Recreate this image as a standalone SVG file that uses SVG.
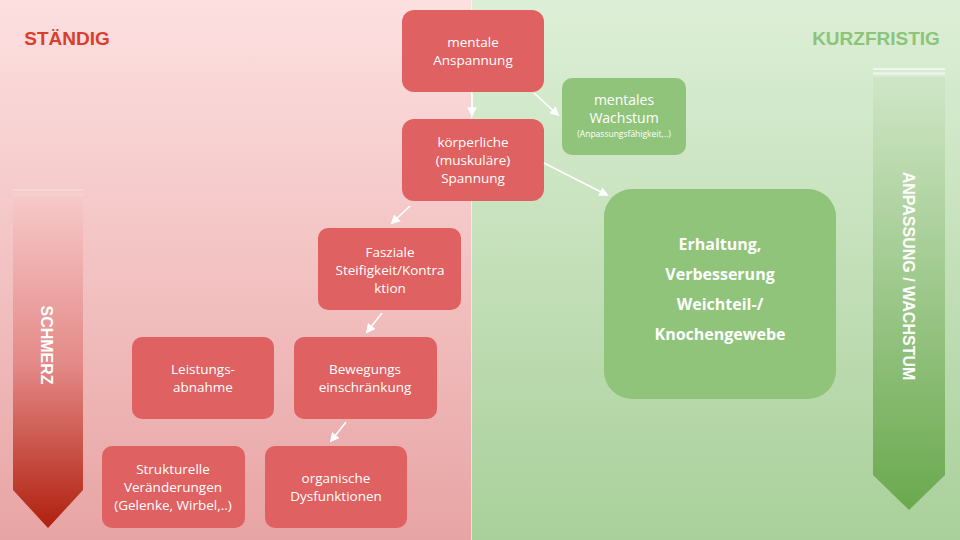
<svg xmlns="http://www.w3.org/2000/svg" width="960" height="540" viewBox="0 0 960 540">
<defs>
<linearGradient id="bgL" x1="0" y1="0" x2="0" y2="1"><stop offset="0" stop-color="#fde0e0"/><stop offset="1" stop-color="#e8a4a4"/></linearGradient>
<linearGradient id="bgR" x1="0" y1="0" x2="0" y2="1"><stop offset="0" stop-color="#ddefd7"/><stop offset="1" stop-color="#a9d09a"/></linearGradient>
<linearGradient id="arL" x1="0" y1="0" x2="0" y2="1"><stop offset="0" stop-color="#f6c8c8"/><stop offset="0.5" stop-color="#e48a88"/><stop offset="1" stop-color="#b0200e"/></linearGradient>
<linearGradient id="arR" x1="0" y1="0" x2="0" y2="1"><stop offset="0" stop-color="#cfe6c6"/><stop offset="1" stop-color="#6aa94e"/></linearGradient>
<marker id="ah" viewBox="0 0 10 10" refX="8" refY="5" markerWidth="6" markerHeight="6" orient="auto"><path d="M0,0L10,5L0,10z" fill="#fff"/></marker>
<style>
.r{fill:#e06161}.g{fill:#8fc47a}
text{font-family:"Open Sans","Noto Sans",sans-serif;fill:#fff;font-size:13.5px;text-anchor:middle}
.c line{stroke:#fff;stroke-width:1.6;marker-end:url(#ah)}
</style>
</defs>
<rect x="0" y="0" width="471" height="540" fill="url(#bgL)"/>
<rect x="471" y="0" width="489" height="540" fill="url(#bgR)"/>
<line x1="471.5" y1="0" x2="471.5" y2="540" stroke="#fff" stroke-opacity="0.6"/>
<text x="67" y="45" style="font-family:'Liberation Sans',sans-serif;font-weight:bold;font-size:19px;fill:#d9402c">STÄNDIG</text>
<text x="876" y="45" style="font-family:'Liberation Sans',sans-serif;font-weight:bold;font-size:19px;fill:#8cc47a">KURZFRISTIG</text>
<g id="painArrow">
<rect x="13" y="189" width="70" height="2" fill="#f9d4d4"/>
<rect x="13" y="193" width="70" height="3" fill="#f8cfcf"/>
<path d="M13,198H83V490L48,528L13,490Z" fill="url(#arL)"/>
<text transform="translate(41,345) rotate(90)" style="font-family:'Liberation Sans',sans-serif;font-weight:bold;font-size:16px">SCHMERZ</text>
</g>
<g id="growArrow">
<rect x="873" y="68" width="72" height="2" fill="#eef7ea"/>
<rect x="873" y="72" width="72" height="3" fill="#e8f3e3"/>
<path d="M873,77H945V475L909,510L873,475Z" fill="url(#arR)"/>
<text transform="translate(903,276) rotate(90)" style="font-family:'Liberation Sans',sans-serif;font-weight:bold;font-size:16px">ANPASSUNG / WACHSTUM</text>
</g>
<g id="n1"><rect class="r" x="402" y="10" width="142" height="82" rx="12"/><text x="473" y="47">mentale</text><text x="473" y="65">Anspannung</text></g>
<g id="n2"><rect class="r" x="402" y="119" width="142" height="82" rx="12"/><text x="473" y="147">körperliche</text><text x="473" y="165">(muskuläre)</text><text x="473" y="183">Spannung</text></g>
<g id="n3"><rect class="g" x="562" y="78" width="124" height="77" rx="10"/><text x="624" y="105" style="font-size:14px">mentales</text><text x="624" y="123" style="font-size:14px">Wachstum</text><text x="624" y="137" style="font-size:8.5px">(Anpassungsfähigkeit,..)</text></g>
<g id="n4"><rect class="g" x="604" y="189" width="232" height="210" rx="28"/>
<text x="720" y="250" style="font-weight:bold;font-size:16px">Erhaltung,</text>
<text x="720" y="280" style="font-weight:bold;font-size:16px">Verbesserung</text>
<text x="720" y="310" style="font-weight:bold;font-size:16px">Weichteil-/</text>
<text x="720" y="340" style="font-weight:bold;font-size:16px">Knochengewebe</text></g>
<g id="n5"><rect class="r" x="318" y="228" width="143" height="82" rx="10"/><text x="390" y="257">Fasziale</text><text x="390" y="275">Steifigkeit/Kontra</text><text x="390" y="293">ktion</text></g>
<g id="n6"><rect class="r" x="294" y="337" width="143" height="82" rx="10"/><text x="365" y="374">Bewegungs</text><text x="365" y="392">einschränkung</text></g>
<g id="n7"><rect class="r" x="132" y="337" width="142" height="82" rx="10"/><text x="203" y="374">Leistungs-</text><text x="203" y="392">abnahme</text></g>
<g id="n8"><rect class="r" x="102" y="446" width="143" height="82" rx="10"/><text x="173" y="474">Strukturelle</text><text x="173" y="492">Veränderungen</text><text x="173" y="510">(Gelenke, Wirbel,..)</text></g>
<g id="n9"><rect class="r" x="265" y="446" width="142" height="82" rx="10"/><text x="336" y="483">organische</text><text x="336" y="501">Dysfunktionen</text></g>
<g class="c" id="connectors">
<line x1="472" y1="93" x2="472" y2="115"/>
<line x1="534" y1="93" x2="558" y2="115"/>
<line x1="544" y1="163" x2="607" y2="195"/>
<line x1="410" y1="206" x2="392" y2="223"/>
<line x1="382" y1="313" x2="367" y2="332"/>
<line x1="346" y1="422" x2="331" y2="441"/>
</g>
</svg>
